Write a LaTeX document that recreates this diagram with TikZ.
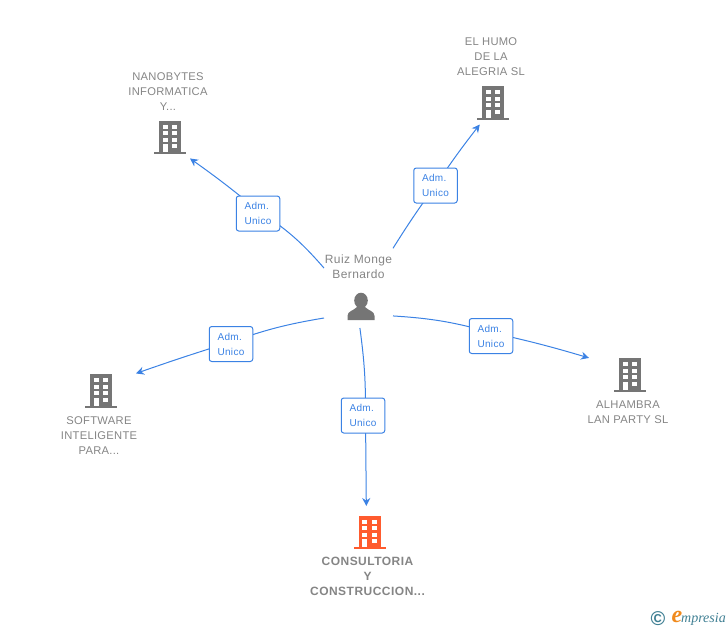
\documentclass[tikz,border=0pt]{standalone}
\usepackage{fontspec}
\setmainfont{Liberation Sans}
\newfontfamily\markfont{Liberation Serif}
\usetikzlibrary{arrows.meta}
\definecolor{linkblue}{HTML}{3B82E4}
\definecolor{bldgrey}{HTML}{757575}
\definecolor{bldorange}{HTML}{FF5B2E}
\definecolor{labelgrey}{HTML}{858585}
\definecolor{markteal}{HTML}{3F7F93}
\definecolor{markorange}{HTML}{F08A1D}
\tikzset{
  pics/building/.style={code={
    \fill[#1] (-11,-16.5) rectangle (11,15);
    \fill[#1] (-16,15) rectangle (16,17);
    \foreach \wy in {-12.5,-6,0.5} {
      \fill[white] (-7.2,\wy) rectangle (-2.4,\wy+4.2);
      \fill[white] (2.4,\wy) rectangle (7.2,\wy+4.2);
    }
    \fill[white] (-7.2,7) rectangle (-2.4,15);
    \fill[white] (2.4,7) rectangle (7.2,11.2);
  }},
  bldbox/.style={inner sep=0pt, outer sep=0pt, minimum height=44pt},
  bldname/.style={text=labelgrey, align=center, inner sep=0pt,
    font=\fontsize{11.2}{15}\selectfont\addfontfeature{LetterSpace=2.5}},
  admbox/.style={draw=linkblue, fill=white, rounded corners=2.5pt, line width=1pt, text=linkblue,
    minimum width=43.5pt, minimum height=35pt, inner sep=0pt, align=left,
    font=\fontsize{10}{15}\selectfont\addfontfeature{LetterSpace=3}},
  link/.style={draw=linkblue, line width=1pt},
  linkarrow/.style={link, -{Stealth[length=8pt, width=8pt]}}
}
\begin{document}
\begin{tikzpicture}[x=1pt, y=-1pt]

	\useasboundingbox (0,0) rectangle (728,630);

	% central person
	\node[inner sep=0pt, outer sep=0pt, minimum width=69pt, minimum height=80pt] (ruiz) at (358.5,288) {};
	\node[bldname, font=\fontsize{12}{15}\selectfont\addfontfeature{LetterSpace=3.3}] (ruizname) at (358.5,266.5) {Ruiz Monge\\Bernardo};
	\fill[bldgrey] (361,300.5) ellipse [x radius=6.8, y radius=7.8];
	\fill[bldgrey] (347.5,320) -- (347.5,316) .. controls (347.5,311) and (353,311) .. (357,307)
		-- (365,307) .. controls (369,311) and (374.5,311) .. (374.5,316) -- (374.5,320) -- cycle;

	% companies
	\node[bldbox, minimum width=40pt] (nanobytes) at (170,137) {};
	\pic at (170,137) {building=bldgrey};
	\node[bldname] (nanobytesname) at (168,91.5) {NANOBYTES\\INFORMATICA\\Y...};

	\node[bldbox, minimum width=40pt] (humo) at (493,102.5) {};
	\pic at (493,102.5) {building=bldgrey};
	\node[bldname] (humoname) at (491,57) {EL HUMO\\DE LA\\ALEGRIA SL};

	\node[bldbox, minimum width=70pt] (software) at (101,390.5) {};
	\pic at (101,390.5) {building=bldgrey};
	\node[bldname] (softwarename) at (99,435.5) {SOFTWARE\\INTELIGENTE\\PARA...};

	\node[bldbox, minimum width=82pt] (alhambra) at (630,374.5) {};
	\pic at (630,374.5) {building=bldgrey};
	\node[bldname] (alhambraname) at (628,412) {ALHAMBRA\\LAN PARTY SL};

	\node[bldbox, minimum width=34pt, minimum height=52pt] (consultoria) at (369.5,532) {};
	\pic at (369.5,532) {building=bldorange};
	\node[bldname, font=\fontsize{12}{15}\selectfont\bfseries\addfontfeature{LetterSpace=4}] (consultorianame) at (367.5,576) {CONSULTORIA\\Y\\CONSTRUCCION...};

	% links
	\coordinate (humomid) at (435.5,185.5);
	\coordinate (nanomid) at (258,210.5);
	\coordinate (softmid) at (231,342);
	\coordinate (alhmid) at (491,332.5);
	\coordinate (consmid) at (365.5,415);

	\draw[link] (ruiz.49) to[bend left=2] (humomid);
	\draw[linkarrow] (humomid) to[bend left=2] (humo.239);
	\draw[link] (ruiz.150) to[bend right=8] (nanomid);
	\draw[linkarrow] (nanomid) to[bend right=2] (nanobytes.-47);
	\draw[link] (ruiz.221) to[bend right=5] (softmid);
	\draw[linkarrow] (softmid) to[bend right=1] (software.26);
	\draw[link] (ruiz.-39) to[bend left=6] (alhmid);
	\draw[linkarrow] (alhmid) to[bend left=2] (alhambra.158.7);
	\draw[link] (ruiz.-88) to[bend left=4] (consmid);
	\draw[linkarrow] (consmid) to (consultoria.97.7);

	\node[admbox] (admhumo) at (435.5,185.5) {Adm.\\Unico};
	\node[admbox] (admnano) at (258,213.5) {Adm.\\Unico};
	\node[admbox] (admsoft) at (231,344) {Adm.\\Unico};
	\node[admbox] (admalh) at (491,336) {Adm.\\Unico};
	\node[admbox] (admcons) at (363,415.5) {Adm.\\Unico};

	% corner mark
	\node[inner sep=0pt, text=markteal, font=\fontsize{20}{20}\selectfont\bfseries] (markc) at (658,619) {\char"00A9};
	\node[inner sep=0pt, text=markorange, font=\markfont\itshape\bfseries\fontsize{24}{24}\selectfont] (marke) at (677,617) {e};
	\node[inner sep=0pt, text=markteal, anchor=west, font=\markfont\itshape\fontsize{14}{14}\selectfont] (markname) at (681,619) {mpresia};
\end{tikzpicture}
\end{document}
